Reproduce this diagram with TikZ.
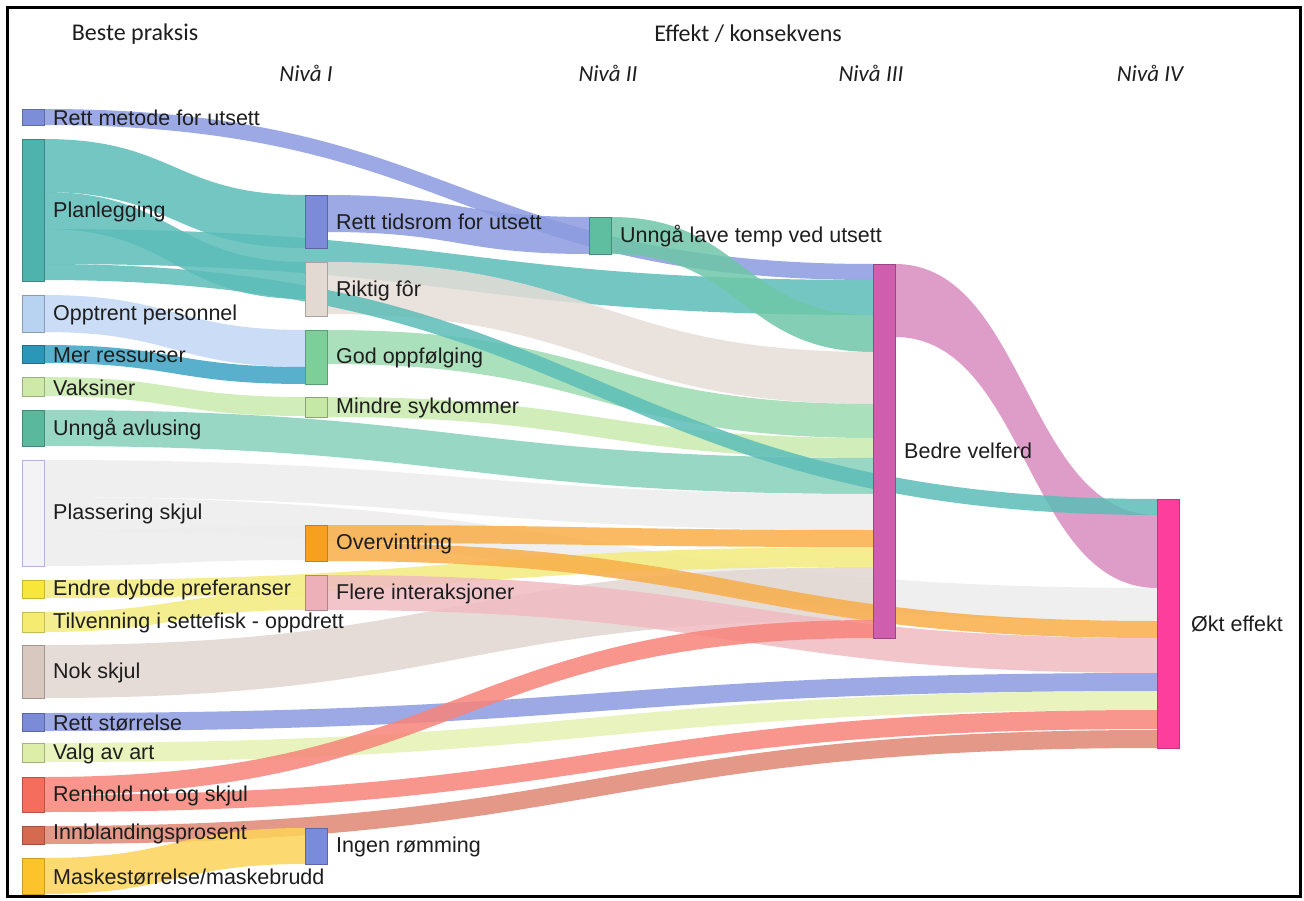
\documentclass[tikz,border=0pt]{standalone}
\usepackage{fontspec}
\setmainfont{Liberation Sans}
\newfontfamily\calibfont{Carlito}
\usetikzlibrary{calc}
\pgfdeclarelayer{back}
\pgfdeclarelayer{bg}
\pgfsetlayers{back,bg,main}

% node colours
\definecolor{nMetode}{HTML}{7D8ED8}
\definecolor{nPlan}{HTML}{4FB3AD}
\definecolor{nOpp}{HTML}{B8D2F2}
\definecolor{nMer}{HTML}{2A97B8}
\definecolor{nVaks}{HTML}{CFEAA8}
\definecolor{nAvlus}{HTML}{5AB89D}
\definecolor{nPlass}{HTML}{F3F3F5}
\definecolor{nDybde}{HTML}{F8E63A}
\definecolor{nTilv}{HTML}{F5EB70}
\definecolor{nNok}{HTML}{D8C8C0}
\definecolor{nStr}{HTML}{7B8BD8}
\definecolor{nValg}{HTML}{DDEEA8}
\definecolor{nRenh}{HTML}{F56D5C}
\definecolor{nInnbl}{HTML}{D66A50}
\definecolor{nMaske}{HTML}{FCC42A}
\definecolor{nTids}{HTML}{7B8BD8}
\definecolor{nFor}{HTML}{E2D9D3}
\definecolor{nGodo}{HTML}{7CCF98}
\definecolor{nMindre}{HTML}{C6E8A6}
\definecolor{nOverv}{HTML}{F7A020}
\definecolor{nFlere}{HTML}{EEB0B8}
\definecolor{nIngen}{HTML}{7B8BDC}
\definecolor{nTemp}{HTML}{5FBEA0}
\definecolor{nVelf}{HTML}{CF5FAE}
\definecolor{nOkt}{HTML}{FD3E9C}
% ribbon colours
\definecolor{rBlue}{HTML}{8B9BE0}
\definecolor{rTeal}{HTML}{5CBDB8}
\definecolor{rOpp}{HTML}{C2D8F5}
\definecolor{rMer}{HTML}{3CA3C4}
\definecolor{rLgreen}{HTML}{C9EAAE}
\definecolor{rAvlus}{HTML}{86D0BA}
\definecolor{rGray}{HTML}{EDEDED}
\definecolor{rYellow}{HTML}{F4EC7E}
\definecolor{rBeige}{HTML}{E2D7D1}
\definecolor{rFor}{HTML}{E6DDD8}
\definecolor{rValg}{HTML}{E4F2B2}
\definecolor{rRed}{HTML}{F7847A}
\definecolor{rInnbl}{HTML}{E08672}
\definecolor{rMaske}{HTML}{FDD35A}
\definecolor{rGodo}{HTML}{9CDBB0}
\definecolor{rOrange}{HTML}{F8AE48}
\definecolor{rPink}{HTML}{F0BCC2}
\definecolor{rTemp}{HTML}{6EC6A8}
\definecolor{rVelf}{HTML}{D98CC0}
\definecolor{txt}{HTML}{1E1E1E}

% flow: src, src offset, src width, tgt, tgt offset, tgt width, colour
\newcommand{\sflow}[7]{%
  \fill[#7, fill opacity=0.85] let
    \p1=($(#1.north east)+(0,#2)$),
    \p2=($(#4.north west)+(0,#5)$),
    \p3=($(#1.north east)+(0,#2+#3)$),
    \p4=($(#4.north west)+(0,#5+#6)$),
    \n1={(\x1+\x2)/2} in
    (\p1) .. controls (\n1,\y1) and (\n1,\y2) .. (\p2)
    -- (\p4) .. controls (\n1,\y4) and (\n1,\y3) .. (\p3) -- cycle;}

\tikzset{
  bar/.style={line width=0.5pt, minimum width=22pt, inner sep=0pt, outer sep=0pt, anchor=north west},
  lbl/.style={anchor=west, inner sep=0pt, text=txt, font=\fontsize{21.5}{24}\selectfont},
  head/.style={inner sep=0pt, text=txt, font=\calibfont\fontsize{24}{28}\selectfont},
  niva/.style={inner sep=0pt, text=txt, font=\calibfont\itshape\fontsize{23}{27}\selectfont},
}

\begin{document}
\begin{tikzpicture}[x=1pt,y=-1pt]
\useasboundingbox (0,0) rectangle (1304,901);
\begin{pgfonlayer}{back}
\fill[white] (0,0) rectangle (1304,901);
\end{pgfonlayer}
\draw[line width=3pt] (7,8) rectangle (1300,896);

% headers
\node[head] (hbeste) at (135,34) {Beste praksis};
\node[head] (heffekt) at (748,34) {Effekt / konsekvens};
\node[niva] (niv1) at (306,73) {Nivå I};
\node[niva] (niv2) at (608,73) {Nivå II};
\node[niva] (niv3) at (871,73) {Nivå III};
\node[niva] (niv4) at (1150,73) {Nivå IV};

% left column
\node[bar, fill=nMetode, draw=nMetode!75!black, minimum height=16pt] (metode) at (22,109) {};
\node[bar, fill=nPlan, draw=nPlan!75!black, minimum height=142pt] (plan) at (22,139) {};
\node[bar, fill=nOpp, draw=nOpp!75!black, minimum height=37pt] (opp) at (22,295) {};
\node[bar, fill=nMer, draw=nMer!75!black, minimum height=18pt] (mer) at (22,345) {};
\node[bar, fill=nVaks, draw=nVaks!75!black, minimum height=19pt] (vaks) at (22,377) {};
\node[bar, fill=nAvlus, draw=nAvlus!75!black, minimum height=36pt] (avlus) at (22,410) {};
\node[bar, fill=nPlass, draw=black!35!blue!30, minimum height=106pt] (plass) at (22,460) {};
\node[bar, fill=nDybde, draw=nDybde!80!black, minimum height=18pt] (dybde) at (22,580) {};
\node[bar, fill=nTilv, draw=nTilv!80!black, minimum height=20pt] (tilv) at (22,612) {};
\node[bar, fill=nNok, draw=nNok!75!black, minimum height=53pt] (nok) at (22,645) {};
\node[bar, fill=nStr, draw=nStr!75!black, minimum height=18pt] (str) at (22,713) {};
\node[bar, fill=nValg, draw=nValg!75!black, minimum height=19pt] (valg) at (22,743) {};
\node[bar, fill=nRenh, draw=nRenh!75!black, minimum height=35pt] (renh) at (22,777) {};
\node[bar, fill=nInnbl, draw=nInnbl!75!black, minimum height=18pt] (innbl) at (22,826) {};
\node[bar, fill=nMaske, draw=nMaske!80!black, minimum height=36pt] (maske) at (22,858) {};

% Nivaa I
\node[bar, fill=nTids, draw=nTids!75!black, minimum height=53pt] (tids) at (305,195) {};
\node[bar, fill=nFor, draw=nFor!75!black, minimum height=54pt] (for) at (305,262) {};
\node[bar, fill=nGodo, draw=nGodo!75!black, minimum height=54pt] (godo) at (305,330) {};
\node[bar, fill=nMindre, draw=nMindre!70!black, minimum height=20pt] (mindre) at (305,397) {};
\node[bar, fill=nOverv, draw=nOverv!80!black, minimum height=36pt] (overv) at (305,525) {};
\node[bar, fill=nFlere, draw=nFlere!75!black, minimum height=35pt] (flere) at (305,575) {};
\node[bar, fill=nIngen, draw=nIngen!75!black, minimum height=36pt] (ingen) at (305,828) {};
% Nivaa II
\node[bar, fill=nTemp, draw=nTemp!75!black, minimum height=37pt] (temp) at (589,217) {};
% Nivaa III
\node[bar, fill=nVelf, draw=nVelf!75!black, minimum height=374pt] (velf) at (873,264) {};
% Nivaa IV
\node[bar, fill=nOkt, draw=nOkt!80!black, minimum height=249pt] (okt) at (1157,499) {};

% flows
\begin{pgfonlayer}{bg}
\sflow{metode}{0}{16}{velf}{0}{16}{rBlue}
\sflow{plan}{0}{53}{tids}{0}{53}{rTeal}
\sflow{plan}{53}{37}{for}{0}{37}{rTeal}
\sflow{plan}{90}{35}{velf}{16}{35}{rTeal}
\sflow{tids}{0}{37}{temp}{0}{37}{rBlue}
\sflow{temp}{0}{37}{velf}{51}{37}{rTemp}
\sflow{for}{0}{52}{velf}{88}{52}{rFor}
\sflow{opp}{0}{37}{godo}{0}{37}{rOpp}
\sflow{mer}{0}{18}{godo}{37}{17}{rMer}
\sflow{godo}{0}{34}{velf}{140}{34}{rGodo}
\sflow{vaks}{0}{19}{mindre}{0}{19}{rLgreen}
\sflow{mindre}{0}{20}{velf}{174}{20}{rLgreen}
\sflow{avlus}{0}{36}{velf}{194}{36}{rAvlus}
\sflow{plass}{0}{37}{velf}{230}{36}{rGray}
\sflow{plass}{37}{34}{okt}{89}{33}{rGray}
\sflow{plass}{71}{35}{overv}{0}{35}{rGray}
\sflow{nok}{0}{53}{velf}{303}{53}{rBeige}
\sflow{overv}{0}{18}{velf}{266}{17}{rOrange}
\sflow{dybde}{0}{18}{velf}{283}{20}{rYellow}
\sflow{tilv}{0}{20}{flere}{17}{18}{rYellow}
\sflow{overv}{18}{18}{okt}{122}{17}{rOrange}
\sflow{flere}{0}{35}{okt}{139}{35}{rPink}
\sflow{str}{0}{18}{okt}{174}{18}{rBlue}
\sflow{valg}{0}{19}{okt}{192}{19}{rValg}
\sflow{renh}{18}{17}{okt}{211}{19}{rRed}
\sflow{renh}{0}{18}{velf}{356}{18}{rRed}
\sflow{innbl}{0}{18}{okt}{231}{18}{rInnbl}
\sflow{maske}{0}{36}{ingen}{0}{36}{rMaske}
\sflow{velf}{0}{73}{okt}{16}{73}{rVelf}
\sflow{plan}{125}{16}{okt}{0}{16}{rTeal}
\end{pgfonlayer}

% labels
\node[lbl] (metode-t) at ($(metode.east)+(9,1)$) {Rett metode for utsett};
\node[lbl] (plan-t) at ($(plan.east)+(9,2)$) {Planlegging};
\node[lbl] (opp-t) at ($(opp.east)+(9,1)$) {Opptrent personnel};
\node[lbl] (mer-t) at ($(mer.east)+(9,1)$) {Mer ressurser};
\node[lbl] (vaks-t) at ($(vaks.east)+(9,1)$) {Vaksiner};
\node[lbl] (avlus-t) at ($(avlus.east)+(9,1)$) {Unngå avlusing};
\node[lbl] (plass-t) at ($(plass.east)+(9,1)$) {Plassering skjul};
\node[lbl] (dybde-t) at ($(dybde.east)+(9,1)$) {Endre dybde preferanser};
\node[lbl] (tilv-t) at ($(tilv.east)+(9,1)$) {Tilvenning i settefisk - oppdrett};
\node[lbl] (nok-t) at ($(nok.east)+(9,1)$) {Nok skjul};
\node[lbl] (str-t) at ($(str.east)+(9,1)$) {Rett størrelse};
\node[lbl] (valg-t) at ($(valg.east)+(9,1)$) {Valg av art};
\node[lbl] (renh-t) at ($(renh.east)+(9,1)$) {Renhold not og skjul};
\node[lbl] (innbl-t) at ($(innbl.east)+(9,-1)$) {Innblandingsprosent};
\node[lbl] (maske-t) at ($(maske.east)+(9,1)$) {Maskestørrelse/maskebrudd};
\node[lbl] (tids-t) at ($(tids.east)+(9,0)$) {Rett tidsrom for utsett};
\node[lbl] (for-t) at ($(for.east)+(9,2)$) {Riktig fôr};
\node[lbl] (godo-t) at ($(godo.east)+(9,1)$) {God oppfølging};
\node[lbl] (mindre-t) at ($(mindre.east)+(9,1)$) {Mindre sykdommer};
\node[lbl] (overv-t) at ($(overv.east)+(9,1)$) {Overvintring};
\node[lbl] (flere-t) at ($(flere.east)+(9,1)$) {Flere interaksjoner};
\node[lbl] (ingen-t) at ($(ingen.east)+(9,1)$) {Ingen rømming};
\node[lbl] (temp-t) at ($(temp.east)+(9,1)$) {Unngå lave temp ved utsett};
\node[lbl] (velf-t) at ($(velf.east)+(9,0)$) {Bedre velferd};
\node[lbl] (okt-t) at ($(okt.east)+(12,0)$) {Økt effekt};
\end{tikzpicture}
\end{document}
